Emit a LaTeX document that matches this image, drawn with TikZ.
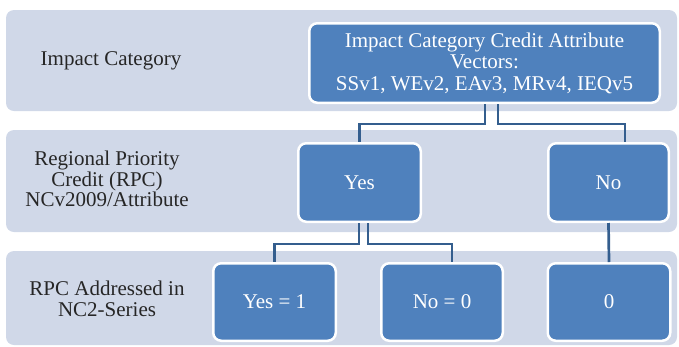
\documentclass[tikz,border=0pt]{standalone}
\usepackage{fontspec}
\setmainfont{Liberation Serif}
\definecolor{bandfill}{RGB}{208,216,232}
\definecolor{boxfill}{RGB}{79,129,189}
\definecolor{linkcol}{RGB}{52,94,142}
\begin{document}
\begin{tikzpicture}[x=1pt,y=-1pt,
  band/.style={fill=bandfill, rounded corners=8pt},
  box/.style={draw=white, line width=2.5pt, fill=boxfill, rounded corners=8pt,
    text=white, font=\fontsize{21}{21.5}\selectfont, align=center, inner sep=0pt},
  rowlabel/.style={align=center, inner sep=0pt, font=\fontsize{21}{20.5}\selectfont, text=black!85},
  link/.style={draw=linkcol, line width=2.7pt}
]
\useasboundingbox (0,0) rectangle (679,346);

% row bands
\fill[band] (6,10) rectangle (677,111);
\fill[band] (6,130) rectangle (677,232);
\fill[band] (6,251) rectangle (677,345);

% row labels
\node[rowlabel] (lab1) at (111,61) {Impact Category};
\node[rowlabel] (lab2) at (107,179) {Regional Priority\\Credit (RPC)\\NCv2009/Attribute};
\node[rowlabel] (lab3) at (107,299) {RPC Addressed in\\NC2-Series};

% boxes
\node[box, minimum width=350.5pt, minimum height=79.5pt] (top) at (484.5,63)
  {Impact Category Credit Attribute\\Vectors:\\SSv1, WEv2, EAv3, MRv4, IEQv5};
\node[box, minimum width=122.5pt, minimum height=78.5pt] (yes) at (359.5,182.5) {Yes};
\node[box, minimum width=120.5pt, minimum height=78.5pt] (no) at (608.5,182.5) {No};
\node[box, minimum width=122.5pt, minimum height=77.5pt] (yes1) at (274.5,302) {Yes = 1};
\node[box, minimum width=121.5pt, minimum height=77.5pt] (no0) at (442,302) {No = 0};
\node[box, minimum width=122.5pt, minimum height=77.5pt] (zero) at (609,302) {0};

% connectors
\draw[link] ([xshift=0.5pt]top.south) -- ++(0,20) -| (yes.north);
\draw[link] ([xshift=13.5pt]top.south) -- ++(0,20) -| ([xshift=16.5pt]no.north);
\draw[link] ([xshift=-0.5pt]yes.south) -- ++(0,21) -| (yes1.north);
\draw[link] ([xshift=8.5pt]yes.south) -- ++(0,21) -| ([xshift=10pt]no0.north);
\draw[link] (no.south) -- (zero.north);
\end{tikzpicture}
\end{document}
